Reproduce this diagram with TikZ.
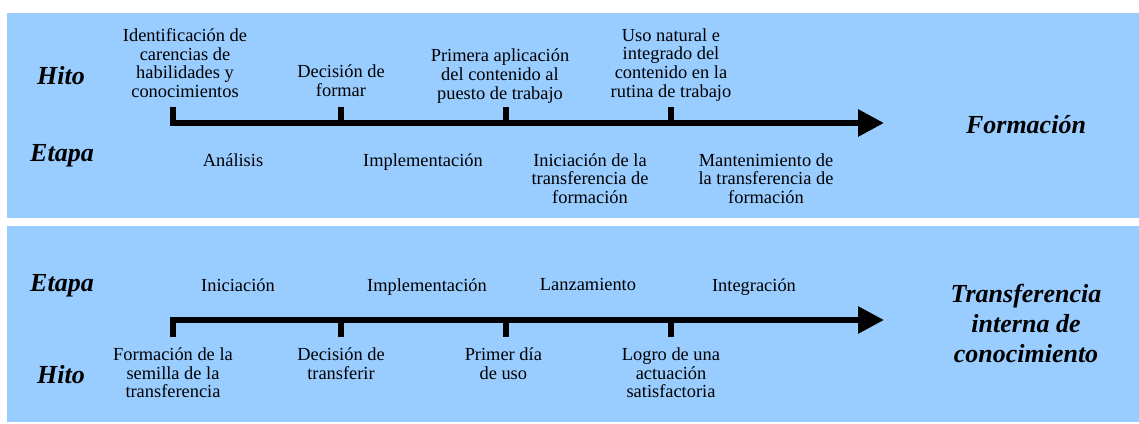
\documentclass[tikz,border=0pt]{standalone}
\usepackage{fontspec}
\setmainfont{Liberation Serif}
\newfontfamily\timesfont{Liberation Serif}
\usepackage{tikz}
\usetikzlibrary{arrows.meta}
\usetikzlibrary{positioning}
\definecolor{panelblue}{HTML}{99CCFF}
\tikzset{
  txt/.style={align=center,inner sep=0pt,font=\timesfont\fontsize{13.8}{14}\selectfont},
  hitotxt/.style={txt,text depth=0pt},
  rowtitle/.style={inner sep=0pt,anchor=base,font=\timesfont\fontsize{19.5}{22.5}\selectfont\bfseries\itshape},
  timeline/.style={line width=4.5pt,-{Triangle[length=19.5pt,width=19.5pt]}},
  hitotick/.style={line width=4pt},
}

\begin{document}
\begin{tikzpicture}[x=0.75pt,y=-0.75pt]
    \useasboundingbox (0,0) rectangle (1139,424);
    \fill[panelblue] (7,13) rectangle (1139,218);
    \fill[panelblue] (7,226) rectangle (1139,422);

    % Formacion
    \node[rowtitle] (hitoA) at (61,85) {Hito};
    \node[rowtitle] (etapaA) at (62,162) {Etapa};
    \node[rowtitle] (formacion) at (1026,134) {Formación};

    \coordinate (a0) at (173,123);
    \coordinate (a1) at (341,123);
    \coordinate (a2) at (506,123);
    \coordinate (a3) at (671,123);
    \coordinate (aend) at (884,123);
    \draw[timeline] (a0) -- (aend);
    \foreach \i in {0,...,3}
      \draw[hitotick] ([yshift=-2pt]a\i) -- ++(0,-19) coordinate (at\i);

    \node[hitotxt, above=6.75pt of at0, xshift=9pt] (ha0) {Identificación de\\carencias de\\habilidades y\\conocimientos};
    \node[hitotxt, above=7.5pt of at1] (ha1) {Decisión de\\formar};
    \node[hitotxt, above=5.5pt of at2, xshift=-4.5pt] (ha2) {Primera aplicación\\del contenido al\\puesto de trabajo};
    \node[hitotxt, above=7pt of at3] (ha3) {Uso natural e\\integrado del\\contenido en la\\rutina de trabajo};

    \node[txt, anchor=north] (ea0) at (233,153) {Análisis};
    \node[txt, anchor=north] (ea1) at (423,153) {Implementación};
    \node[txt, anchor=north] (ea2) at (590,153) {Iniciación de la\\transferencia de\\formación};
    \node[txt, anchor=north] (ea3) at (766,153) {Mantenimiento de\\la transferencia de\\formación};

    % Transferencia interna
    \node[rowtitle] (etapaB) at (62,291) {Etapa};
    \node[rowtitle] (hitoB) at (61,383) {Hito};
    \node[rowtitle, align=center, anchor=north] (transfer) at (1026,284)
      {Transferencia\\interna de\\conocimiento};

    \coordinate (b0) at (173,320);
    \coordinate (b1) at (341,320);
    \coordinate (b2) at (506,320);
    \coordinate (b3) at (671,320);
    \coordinate (bend) at (884,320);
    \draw[timeline] (b0) -- (bend);
    \foreach \i in {0,...,3}
      \draw[hitotick] ([yshift=2pt]b\i) -- ++(0,20) coordinate (bt\i);

    \node[txt, anchor=north] (eb0) at (238,278) {Iniciación};
    \node[txt, anchor=north] (eb1) at (427,278) {Implementación};
    \node[txt, anchor=north] (eb2) at (588,278) {Lanzamiento};
    \node[txt, anchor=north] (eb3) at (754,278) {Integración};

    \node[txt, below=7.5pt of bt0] (hb0) {Formación de la\\semilla de la\\transferencia};
    \node[txt, below=7.5pt of bt1] (hb1) {Decisión de\\transferir};
    \node[txt, below=7.5pt of bt2, xshift=-2pt] (hb2) {Primer día\\de uso};
    \node[txt, below=7.5pt of bt3] (hb3) {Logro de una\\actuación\\satisfactoria};
\end{tikzpicture}
\end{document}
